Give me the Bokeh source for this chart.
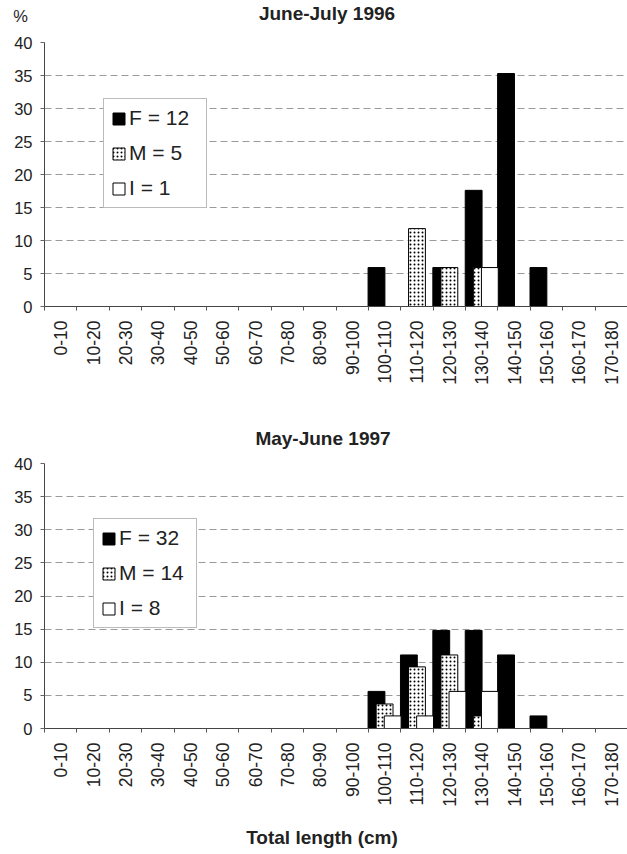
import numpy as np
from bokeh.plotting import figure
from bokeh.models import (Range1d, FixedTicker, Legend, LegendItem, Div,
                          ColumnDataSource)
from bokeh.layouts import column
from bokeh.embed import file_html
from bokeh.resources import INLINE

# ---------------- data ----------------
categories = ["0-10", "10-20", "20-30", "30-40", "40-50", "50-60", "60-70",
              "70-80", "80-90", "90-100", "100-110", "110-120", "120-130",
              "130-140", "140-150", "150-160", "160-170", "170-180"]
y_ticks = [0, 5, 10, 15, 20, 25, 30, 35, 40]

title_1996 = "June-July 1996"
f_1996 = [0, 0, 0, 0, 0, 0, 0, 0, 0, 0, 5.9, 0, 5.9, 17.6, 35.3, 5.9, 0, 0]
m_1996 = [0, 0, 0, 0, 0, 0, 0, 0, 0, 0, 0, 11.8, 5.9, 5.9, 0, 0, 0, 0]
i_1996 = [0, 0, 0, 0, 0, 0, 0, 0, 0, 0, 0, 0, 0, 5.9, 0, 0, 0, 0]
n_1996 = {"F": 12, "M": 5, "I": 1}

title_1997 = "May-June 1997"
f_1997 = [0, 0, 0, 0, 0, 0, 0, 0, 0, 0, 5.6, 11.1, 14.8, 14.8, 11.1, 1.9, 0, 0]
m_1997 = [0, 0, 0, 0, 0, 0, 0, 0, 0, 0, 3.7, 9.3, 11.1, 1.9, 0, 0, 0, 0]
i_1997 = [0, 0, 0, 0, 0, 0, 0, 0, 0, 0, 1.9, 1.9, 5.6, 5.6, 0, 0, 0, 0]
n_1997 = {"F": 32, "M": 14, "I": 8}

y_unit = "%"
x_title = "Total length (cm)"

FONT = "Liberation Sans"
TXT = "#222222"
W = 627


def heading(height, items):
    parts = []
    for (left, top, width, align, size, weight, txt) in items:
        parts.append(
            f'<div style="position:absolute;left:{left}px;top:{top}px;'
            f'width:{width}px;text-align:{align};font-family:\'{FONT}\';'
            f'font-size:{size};font-weight:{weight};color:{TXT};'
            f'line-height:1;white-space:nowrap">{txt}</div>')
    html = (f'<div style="position:relative;width:{W}px;height:{height}px;'
            f'overflow:visible">' + "".join(parts) + '</div>')
    return Div(text=html, width=W, height=height, margin=0)


def make_chart(f, m, i, n, b_top, frame_h, b_bottom, legend_loc):
    p = figure(width=W, height=b_top + frame_h + b_bottom,
               x_range=Range1d(0, len(categories)), y_range=Range1d(0, 40),
               output_backend="svg", toolbar_location=None,
               min_border_left=44, min_border_right=0,
               min_border_top=b_top, min_border_bottom=b_bottom)
    p.outline_line_color = None
    p.background_fill_color = "white"
    p.border_fill_color = "white"

    centers = np.arange(len(categories)) + 0.5
    styles = [
        (f, -0.25, dict(fill_color="black")),
        (m, 0.0, dict(fill_color="white", hatch_pattern="dot",
                      hatch_color="black", hatch_scale=4, hatch_weight=1.7)),
        (i, 0.25, dict(fill_color="white")),
    ]
    rs = []
    for vals, off, st in styles:
        vals = np.asarray(vals, dtype=float)
        mask = vals > 0
        src = ColumnDataSource(dict(x=centers[mask] + off, top=vals[mask]))
        r = p.vbar(x="x", top="top", bottom=0, width=0.52, source=src,
                   line_color="black", line_width=1, **st)
        rs.append(r)

    # x axis: labels at category centres, ticks at category boundaries
    xa = p.xaxis[0]
    xa.ticker = FixedTicker(ticks=list(centers),
                            minor_ticks=list(range(len(categories) + 1)))
    xa.major_label_overrides = {float(c): lab for c, lab in zip(centers, categories)}
    xa.major_label_orientation = np.pi / 2
    xa.major_tick_out = 0
    xa.major_tick_in = 0
    xa.minor_tick_out = 4
    xa.minor_tick_in = 0
    xa.minor_tick_line_color = "#555555"
    xa.major_label_standoff = 10
    xa.major_label_text_font = FONT
    xa.major_label_text_font_size = "17.5px"
    xa.major_label_text_color = TXT
    xa.axis_line_color = "#444444"

    ya = p.yaxis[0]
    ya.ticker = FixedTicker(ticks=y_ticks, minor_ticks=[])
    ya.major_tick_out = 4
    ya.major_tick_in = 0
    ya.major_tick_line_color = "#666666"
    ya.major_label_standoff = 8
    ya.major_label_text_font = FONT
    ya.major_label_text_font_size = "16.5px"
    ya.major_label_text_color = TXT
    ya.axis_line_color = "#444444"

    p.xgrid.visible = False
    p.ygrid.ticker = FixedTicker(ticks=y_ticks)
    p.ygrid.grid_line_color = "#9a9a9a"
    p.ygrid.grid_line_dash = "7 4"
    p.ygrid.grid_line_width = 1

    legend = Legend(items=[
        LegendItem(label=f"F = {n['F']}", renderers=[rs[0]]),
        LegendItem(label=f"M = {n['M']}", renderers=[rs[1]]),
        LegendItem(label=f"I = {n['I']}", renderers=[rs[2]]),
    ], location=legend_loc)
    legend.label_text_font = FONT
    legend.label_text_font_size = "21px"
    legend.label_text_color = TXT
    legend.glyph_width = 15
    legend.glyph_height = 15
    legend.label_width = 70
    legend.label_height = 24
    legend.label_standoff = 3
    legend.spacing = 11
    legend.padding = 7
    legend.margin = 0
    legend.border_line_color = "#777777"
    legend.border_line_width = 1
    legend.background_fill_color = "white"
    legend.background_fill_alpha = 1
    p.add_layout(legend)
    return p


head1 = heading(30, [
    (167, 4, 320, "center", "19px", "bold", title_1996),
    (0, 8, 28, "right", "16.5px", "normal", y_unit),
])
p1 = make_chart(f_1996, m_1996, i_1996, n_1996,
                b_top=12, frame_h=264, b_bottom=114, legend_loc=(59, 98))
head2 = heading(31, [
    (163, 9, 320, "center", "19px", "bold", title_1997),
])
p2 = make_chart(f_1997, m_1997, i_1997, n_1997,
                b_top=12, frame_h=265, b_bottom=88, legend_loc=(49, 100))
foot = heading(38, [
    (162, 12, 320, "center", "19px", "bold", x_title),
])

layout = column(head1, p1, head2, p2, foot, spacing=0)
open("out.html", "w").write(file_html(layout, INLINE))
